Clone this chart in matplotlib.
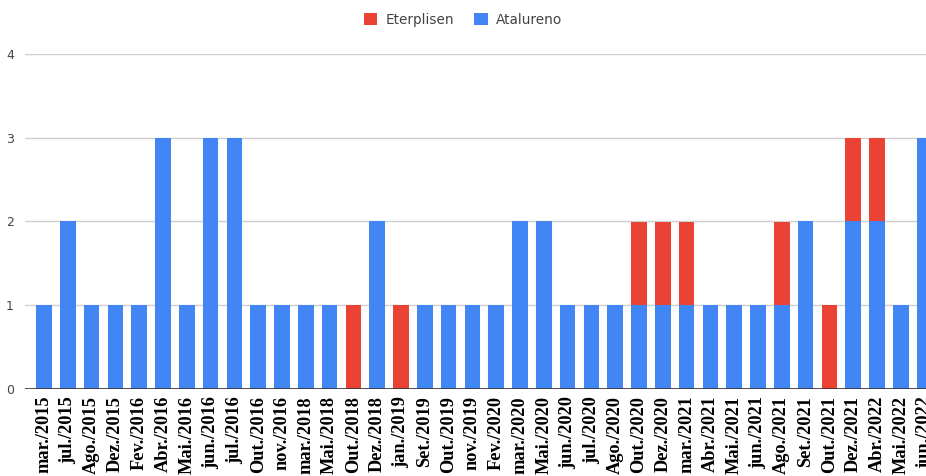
import matplotlib.pyplot as plt
import numpy as np

# Données
meses = ['mar./2015', 'jul./2015', 'Ago./2015', 'Dez./2015', 'Fev./2016', 'Abr./2016',
         'Mai./2016', 'jun./2016', 'jul./2016', 'Out./2016', 'nov./2016', 'mar./2018',
         'Mai./2018', 'Out./2018', 'Dez./2018', 'jan./2019', 'Set./2019', 'Out./2019',
         'nov./2019', 'Fev./2020', 'mar./2020', 'Mai./2020', 'jun./2020', 'jul./2020',
         'Ago./2020', 'Out./2020', 'Dez./2020', 'mar./2021', 'Abr./2021', 'Mai./2021',
         'jun./2021', 'Ago./2021', 'Set./2021', 'Out./2021', 'Dez./2021', 'Abr./2022',
         'Mai./2022', 'jun./2022']
atalureno = [1, 2, 1, 1, 1, 3, 1, 3, 3, 1, 1, 1, 1, 0, 2, 0, 1, 1, 1, 1, 2, 2, 1, 1,
             1, 1, 1, 1, 1, 1, 1, 1, 2, 0, 2, 2, 1, 3]
eterplisen = [0, 0, 0, 0, 0, 0, 0, 0, 0, 0, 0, 0, 0, 1, 0, 1, 0, 0, 0, 0, 0, 0, 0, 0,
              0, 1, 1, 1, 0, 0, 0, 1, 0, 1, 1, 1, 0, 0]

azul = '#4285f4'
vermelho = '#ea4335'

fig = plt.figure(figsize=(9.26, 4.76), dpi=100)
ax = fig.add_axes([25 / 926, 87 / 476, 901 / 926, 335 / 476])

x = np.arange(len(meses))
ax.bar(x, atalureno, width=0.65, color=azul, label='Atalureno', zorder=3)
ax.bar(x, eterplisen, width=0.65, bottom=atalureno, color=vermelho, label='Eterplisen', zorder=3)

ax.set_ylim(0, 4)
ax.set_xlim(-0.8, 37.06)
ax.set_yticks([0, 1, 2, 3, 4])
ax.yaxis.grid(True, color='#d0d0d0', linewidth=1, zorder=0)
ax.axhline(0, color='#333333', linewidth=1.2, zorder=4)
for s in ax.spines.values():
    s.set_visible(False)
ax.tick_params(axis='y', length=0, pad=8, labelsize=9, labelcolor='#444444')
ax.tick_params(axis='x', length=0, pad=5)
ax.set_xticks(x)
ax.set_xticklabels(meses, rotation=90, ha='center', va='top',
                   fontfamily='Liberation Serif', fontweight='bold', fontsize=13.2)

handles, labels = ax.get_legend_handles_labels()
fig.legend(handles[::-1], labels[::-1], loc='center', bbox_to_anchor=(0.5, 1 - 20 / 476),
           ncol=2, frameon=False, fontsize=9.8, labelcolor='#444444',
           handlelength=1, handleheight=1, handletextpad=0.6, columnspacing=1.5)

plt.savefig('out.png', dpi=100)
